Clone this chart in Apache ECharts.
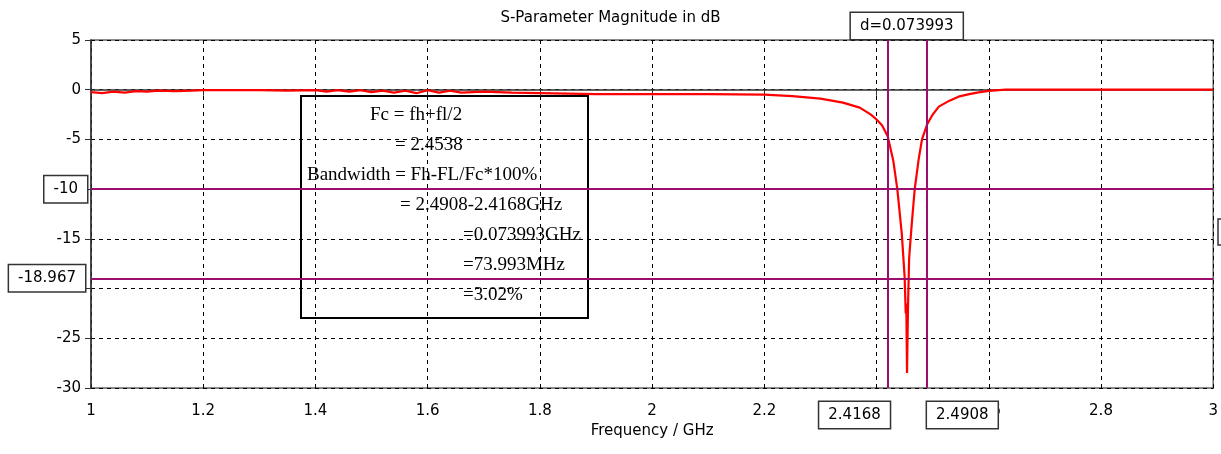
<!DOCTYPE html>
<html>
<head>
<meta charset="utf-8">
<script src="https://cdn.jsdelivr.net/npm/echarts@6/dist/echarts.min.js"></script>
<style>
  html, body { margin: 0; padding: 0; background: #fff; }
  #chart { width: 1221px; height: 454px; }
</style>
</head>
<body>
<div id="chart"></div>
<script>
// Frequency sweep (GHz) and |S11| in dB
const freqGHz = [
  1.00, 1.02, 1.04, 1.06, 1.08, 1.10, 1.12, 1.15, 1.18, 1.20,
  1.25, 1.30, 1.35, 1.40, 1.42, 1.44, 1.46, 1.48, 1.50, 1.52,
  1.54, 1.56, 1.58, 1.60, 1.62, 1.64, 1.66, 1.70, 1.75, 1.80,
  1.85, 1.90, 2.00, 2.10, 2.20, 2.25, 2.30, 2.34, 2.37, 2.39,
  2.40, 2.41, 2.42, 2.43, 2.437, 2.445, 2.450, 2.452, 2.453, 2.4543,
  2.456, 2.458, 2.462, 2.468, 2.475, 2.481, 2.490, 2.500, 2.511, 2.530,
  2.546, 2.565, 2.582, 2.600, 2.630, 2.700, 2.800, 2.900, 3.000
];
const s11dB = [
  -0.25, -0.35, -0.20, -0.30, -0.15, -0.20, -0.10, -0.15, -0.10, -0.05,
  -0.05, -0.05, -0.10, -0.05, -0.20, -0.05, -0.20, -0.05, -0.25, -0.10,
  -0.30, -0.10, -0.35, -0.05, -0.30, -0.10, -0.30, -0.20, -0.30, -0.35,
  -0.40, -0.45, -0.45, -0.45, -0.50, -0.65, -0.90, -1.30, -1.80, -2.50,
  -3.00, -3.60, -4.70, -7.20, -10.0, -14.5, -18.8, -22.5, -21.5, -28.5,
  -22.0, -17.0, -14.0, -10.0, -7.00, -5.00, -3.50, -2.50, -1.70, -1.10,
  -0.70, -0.45, -0.26, -0.12, 0.00, 0.00, 0.00, 0.00, 0.00
];

// Marker positions
const markerFreq = [2.4168, 2.4908];
const markerLevel = [-10, -18.967];
const markerDelta = 'd=0.073993';

// Axis ticks
const xTicks = { min: 1, max: 3, interval: 0.2 };
const yTicks = { min: -30, max: 5, interval: 5 };

// Annotation text
const noteLines = [
  'Fc = fh+fl/2',
  '= 2.4538',
  'Bandwidth = Fh-FL/Fc*100%',
  '= 2.4908-2.4168GHz',
  '=0.073993GHz',
  '=73.993MHz',
  '=3.02%'
];
const noteIndent = [69, 94, 6, 99, 162, 162, 162];

const uiFont = '"DejaVu Sans", Verdana, sans-serif';
const serifFont = '"Liberation Serif", "Times New Roman", serif';
const markerColor = '#9c0e6e';

const boxLabel = {
  show: true,
  color: '#000',
  fontFamily: uiFont,
  fontSize: 15,
  backgroundColor: '#fff',
  borderColor: '#333',
  borderWidth: 1.5,
  padding: [6, 9, 5, 9]
};

const chart = echarts.init(document.getElementById('chart'), null, { renderer: 'canvas' });

const noteChildren = [{
  type: 'rect',
  shape: { x: 0, y: 0, width: 287, height: 222 },
  style: { fill: '#fff', stroke: '#000', lineWidth: 2 }
}];
noteLines.forEach((t, i) => {
  noteChildren.push({
    type: 'text',
    x: noteIndent[i],
    y: 19 + i * 30,
    style: {
      text: t,
      fill: '#000',
      font: '19px ' + serifFont,
      verticalAlign: 'middle'
    }
  });
});

chart.setOption({
  animation: false,
  backgroundColor: '#fff',
  title: {
    text: 'S-Parameter Magnitude in dB',
    left: 'center',
    top: 6,
    textStyle: { fontFamily: uiFont, fontSize: 15, fontWeight: 'normal', color: '#000' }
  },
  grid: {
    left: 91, right: 6, top: 40, bottom: 66,
    show: true, borderColor: '#666', borderWidth: 1.5, backgroundColor: 'transparent'
  },
  xAxis: {
    type: 'value',
    min: xTicks.min, max: xTicks.max, interval: xTicks.interval,
    name: 'Frequency / GHz',
    nameLocation: 'middle',
    nameGap: 36,
    nameTextStyle: { fontFamily: uiFont, fontSize: 15, color: '#000' },
    axisLine: { show: true, lineStyle: { color: '#333', width: 1.5 } },
    axisTick: { show: true, inside: false, length: 6, lineStyle: { color: '#333' } },
    axisLabel: {
      fontFamily: uiFont, fontSize: 15, color: '#000', margin: 16,
      formatter: v => String(Math.round(v * 10) / 10)
    },
    splitLine: { show: true, lineStyle: { color: '#000', type: [4, 4], width: 1 } }
  },
  yAxis: {
    type: 'value',
    min: yTicks.min, max: yTicks.max, interval: yTicks.interval,
    axisLine: { show: true, onZero: false, lineStyle: { color: '#333', width: 1.5 } },
    axisTick: { show: true, inside: false, length: 6, lineStyle: { color: '#333' } },
    axisLabel: { fontFamily: uiFont, fontSize: 15, color: '#000', margin: 10 },
    splitLine: { show: true, lineStyle: { color: '#000', type: [4, 4], width: 1 } }
  },
  series: [{
    type: 'line',
    data: freqGHz.map((f, i) => [f, s11dB[i]]),
    showSymbol: false,
    lineStyle: { color: '#ff0000', width: 2.2 },
    itemStyle: { color: '#ff0000' },
    z: 3,
    markLine: {
      silent: true,
      symbol: ['none', 'none'],
      lineStyle: { color: markerColor, width: 2, type: 'solid' },
      data: [
        { xAxis: markerFreq[0], label: Object.assign({}, boxLabel, { position: 'start', formatter: String(markerFreq[0]), align: 'right', offset: [2, 9] }) },
        { xAxis: markerFreq[1], label: Object.assign({}, boxLabel, { position: 'start', formatter: String(markerFreq[1]), align: 'left', offset: [0, 9] }) },
        { yAxis: markerLevel[0], label: Object.assign({}, boxLabel, { position: 'start', formatter: String(markerLevel[0]), distance: 4 }) },
        { yAxis: markerLevel[1], label: Object.assign({}, boxLabel, { position: 'start', formatter: String(markerLevel[1]), distance: 6 }) }
      ]
    },
    markArea: {
      silent: true,
      itemStyle: { color: 'rgba(0,0,0,0)' },
      label: Object.assign({}, boxLabel, { position: 'top', distance: 1, formatter: markerDelta }),
      data: [[{ xAxis: markerFreq[0] }, { xAxis: markerFreq[1] }]]
    }
  }],
  graphic: [
    { type: 'group', x: 301, y: 96, z: 100, children: noteChildren },
    {
      type: 'rect', z: 100,
      shape: { x: 1218, y: 219, width: 20, height: 26 },
      style: { fill: '#fff', stroke: '#333', lineWidth: 1.5 }
    }
  ]
});
</script>
</body>
</html>
